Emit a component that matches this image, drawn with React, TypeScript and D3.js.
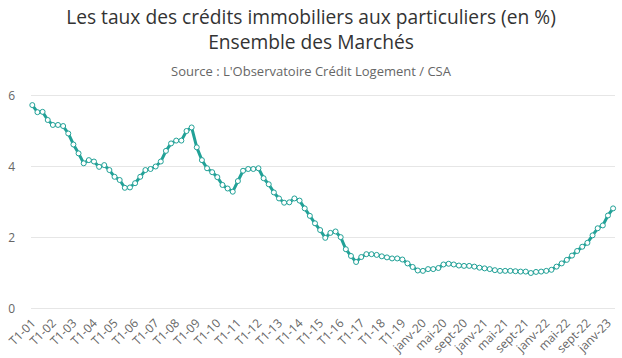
import React from "react";
import * as d3 from "d3";

const W = 622;
const H = 358;

const quarterNames = ["T1", "T2", "T3", "T4"];
const quarterYears = ["01","02","03","04","05","06","07","08","09","10","11","12","13","14","15","16","17","18","19"];
const monthNames = ["janv","févr","mars","avr","mai","juin","juil","août","sept","oct","nov","déc"];
const monthYears = ["20","21","22","23"];
const lastMonthCount = 2; // janv-23, févr-23

const categories: string[] = [];
quarterYears.forEach((y) => quarterNames.forEach((q) => categories.push(`${q}-${y}`)));
monthYears.forEach((y, i) => {
  const n = i === monthYears.length - 1 ? lastMonthCount : 12;
  monthNames.slice(0, n).forEach((m) => categories.push(`${m}-${y}`));
});

const rates: number[] = [
  5.73, 5.53, 5.54, 5.31, 5.17, 5.17, 5.14, 4.93, 4.62, 4.37,
  4.09, 4.18, 4.14, 3.99, 4.04, 3.90, 3.71, 3.62, 3.40, 3.41,
  3.53, 3.71, 3.90, 3.93, 4.00, 4.14, 4.44, 4.65, 4.73, 4.73,
  5.00, 5.10, 4.54, 4.18, 3.95, 3.84, 3.70, 3.48, 3.38, 3.29,
  3.59, 3.88, 3.93, 3.93, 3.95, 3.67, 3.50, 3.27, 3.10, 2.98,
  2.99, 3.10, 3.04, 2.82, 2.61, 2.40, 2.21, 1.99, 2.13, 2.17,
  2.01, 1.67, 1.48, 1.31, 1.45, 1.53, 1.53, 1.51, 1.47, 1.44,
  1.41, 1.41, 1.38, 1.27, 1.17, 1.07, 1.06, 1.11, 1.11, 1.14,
  1.24, 1.26, 1.24, 1.21, 1.20, 1.20, 1.18, 1.15, 1.13, 1.11,
  1.08, 1.06, 1.06, 1.06, 1.05, 1.04, 1.04, 1.00, 1.03, 1.04,
  1.06, 1.09, 1.18, 1.27, 1.37, 1.49, 1.62, 1.74, 1.85, 2.06,
  2.26, 2.34, 2.62, 2.82,
];

const yTicks = [0, 2, 4, 6];

const titleLines = ["Les taux des crédits immobiliers aux particuliers (en %)", "Ensemble des Marchés"];
const subtitle = "Source : L'Observatoire Crédit Logement / CSA";

const FONT = "'Open Sans', 'DejaVu Sans', sans-serif";
const LINE_COLOR = "#21a197";

export default function App() {
  const plotLeft = 31;
  const plotRight = 615;
  const x = d3.scalePoint<string>().domain(categories).range([32.3, 613.1]);
  const y = d3.scaleLinear().domain([0, 6]).range([308.5, 95.5]);

  const data = categories.map((c, i) => ({ c, v: rates[i] })).filter((d) => d.v !== undefined);
  const line = d3
    .line<{ c: string; v: number }>()
    .x((d) => x(d.c) as number)
    .y((d) => y(d.v));

  const labelCats = categories.filter((_, i) => i % 4 === 0);

  return (
    <svg width={W} height={H} style={{ position: "absolute", left: 0, top: 0, background: "#fff" }} fontFamily={FONT}>
      <rect x={0} y={0} width={W} height={H} fill="#fff" />
      {titleLines.map((t, i) => (
        <text key={t} x={W / 2} y={24 + i * 25} textAnchor="middle" fontSize={19.2} fill="#333">
          {t}
        </text>
      ))}
      <text x={W / 2} y={76} textAnchor="middle" fontSize={13} fill="#666">
        {subtitle}
      </text>
      {yTicks.map((t) => (
        <g key={t}>
          <line x1={plotLeft} x2={plotRight} y1={y(t)} y2={y(t)} stroke="#e6e6e6" strokeWidth={1} />
          <text x={15} y={y(t) + 4} textAnchor="end" fontSize={12} fill="#666">
            {t}
          </text>
        </g>
      ))}
      {labelCats.map((c) => {
        const px = (x(c) as number) + 4;
        const py = 324;
        return (
          <text
            key={c}
            x={px}
            y={py}
            textAnchor="end"
            fontSize={12}
            fill="#666"
            transform={`rotate(-45 ${px} ${py})`}
          >
            {c}
          </text>
        );
      })}
      <path d={line(data) || ""} fill="none" stroke={LINE_COLOR} strokeWidth={3} strokeLinejoin="round" strokeLinecap="round" />
      {data.map((d) => (
        <circle key={d.c} cx={x(d.c) as number} cy={y(d.v)} r={2.5} fill="#fff" stroke={LINE_COLOR} strokeWidth={1} />
      ))}
    </svg>
  );
}
